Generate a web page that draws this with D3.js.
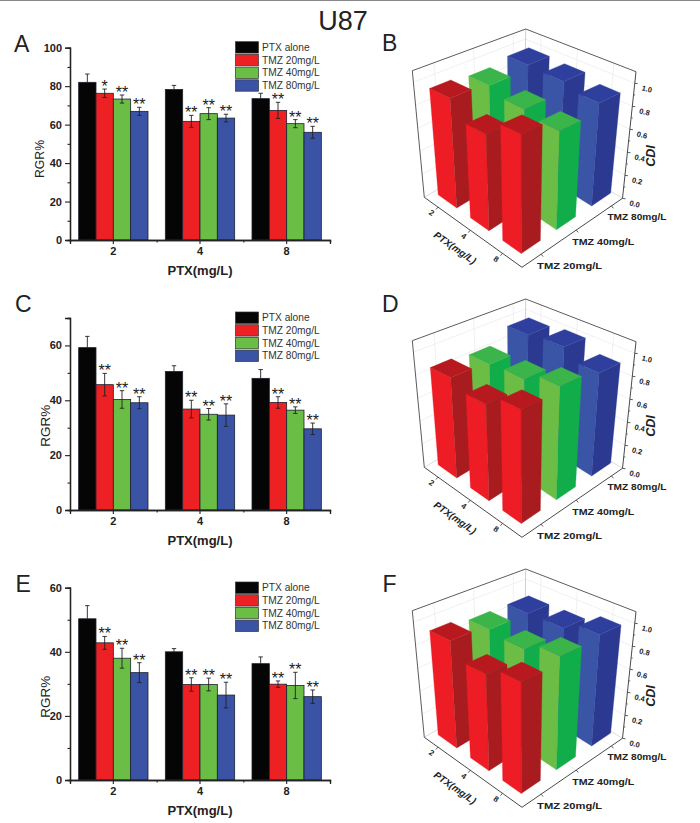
<!DOCTYPE html>
<html>
<head>
<meta charset="utf-8">
<script src="https://cdn.jsdelivr.net/npm/d3@7/dist/d3.min.js"></script>
<style>
html,body{margin:0;padding:0;background:#fff;}
svg{display:block;}
text{font-family:"Liberation Sans",Arial,sans-serif;}
</style>
</head>
<body>
<svg id="chart" width="700" height="823"></svg>
<script>
// ---------- data ----------
const ptxDoses = ["2", "4", "8"];
const seriesNames = ["PTX alone", "TMZ 20mg/L", "TMZ 40mg/L", "TMZ 80mg/L"];
const tmzNames = ["TMZ 20mg/L", "TMZ 40mg/L", "TMZ 80mg/L"];
const barColors = ["#050505", "#ed2024", "#6abd45", "#3a53a4"];

// rows: PTX dose, columns: series
const rgrA = [[82, 76.3, 73.3, 66.9], [78.3, 61.7, 65.7, 63.4], [73.5, 67.4, 60.5, 56]];
const errA = [[4.3, 2.2, 2.1, 2.1], [2.1, 3.1, 3.1, 2], [2.8, 4.2, 2.1, 3.1]];
const starsA = [["", "*", "**", "**"], ["", "**", "**", "**"], ["", "**", "**", "**"]];

const rgrC = [[59.2, 45.7, 40.3, 39.1], [50.5, 36.8, 34.9, 34.6], [48, 39.2, 36.4, 29.6]];
const errC = [[4.1, 4.1, 3.2, 2.2], [2.1, 3.2, 2.1, 4.1], [3.2, 2.1, 1.2, 2.1]];
const starsC = [["", "**", "**", "**"], ["", "**", "**", "**"], ["", "**", "**", "**"]];

const rgrE = [[50.3, 42.8, 38, 33.5], [40, 29.8, 29.8, 26.5], [36.3, 29.9, 29.5, 26]];
const errE = [[4.1, 2, 3.1, 3.1], [1, 2.1, 2, 4], [2.1, 1, 4.1, 2.1]];
const starsE = [["", "**", "**", "**"], ["", "**", "**", "**"], ["", "**", "**", "**"]];

// CDI, rows: PTX dose, columns: TMZ dose
const cdiB = [[0.93, 0.90, 0.94], [0.78, 0.84, 0.93], [0.92, 0.80, 0.88]];
const cdiD = [[0.85, 0.82, 0.94], [0.78, 0.84, 0.97], [0.88, 0.92, 0.88]];
const cdiF = [[0.91, 0.865, 0.86], [0.78, 0.84, 0.87], [0.86, 0.92, 0.95]];

const cdiTicks = [0, 0.2, 0.4, 0.6, 0.8, 1.0];
const cdiMinorTicks = [0.1, 0.3, 0.5, 0.7, 0.9];

const faceColors = [
  {left: "#ee1c25", right: "#a81c20", top: "#b8191f"},
  {left: "#6cbd45", right: "#12ad4b", top: "#3bb54a"},
  {left: "#3a55a5", right: "#2b3990", top: "#2f3f9e"}
];

const svg = d3.select("#chart");
const dark = "#222";

// ---------- page furniture ----------
svg.append("rect").attr("width", 700).attr("height", 1).attr("fill", "#888");
svg.append("text").attr("x", 343).attr("y", 30).attr("text-anchor", "middle")
  .attr("font-size", 27).attr("fill", "#222").text("U87");

function panelLetter(t, x, y) {
  svg.append("text").attr("x", x).attr("y", y).attr("font-size", 23).attr("fill", "#222").text(t);
}
panelLetter("A", 14, 51.5); panelLetter("C", 15, 311.5); panelLetter("E", 15.5, 591.5);
panelLetter("B", 382, 50.5); panelLetter("D", 382, 311.5); panelLetter("F", 382.5, 591.5);

// ---------- bar panels ----------
function barPanel(o) {
  const g = svg.append("g");
  const x0 = d3.scaleBand().domain(ptxDoses).range([70, 330]).paddingInner(0.2).paddingOuter(0.1);
  const x1 = d3.scaleBand().domain(seriesNames).range([0, x0.bandwidth()]);
  const y = d3.scaleLinear().domain([0, o.yMax]).range([o.y0, o.yTop]);

  const groups = g.selectAll("g.grp").data(o.values).join("g")
    .attr("transform", (d, i) => `translate(${x0(ptxDoses[i])},0)`);

  groups.each(function (row, i) {
    const grp = d3.select(this);
    grp.selectAll("rect").data(row).join("rect")
      .attr("x", (d, s) => x1(seriesNames[s]))
      .attr("y", d => y(d))
      .attr("width", x1.bandwidth())
      .attr("height", d => o.y0 - y(d))
      .attr("fill", (d, s) => barColors[s])
      .attr("stroke", "#1c2230").attr("stroke-width", 0.8);
    row.forEach((v, s) => {
      const cx = x1(seriesNames[s]) + x1.bandwidth() / 2;
      const e = o.errors[i][s];
      const low = s === 0 ? v : v - e;
      const hline = yy => grp.append("line").attr("x1", cx - 2.2).attr("x2", cx + 2.2)
        .attr("y1", y(yy)).attr("y2", y(yy)).attr("stroke", dark).attr("stroke-width", 0.9);
      grp.append("line").attr("x1", cx).attr("x2", cx).attr("y1", y(low)).attr("y2", y(v + e))
        .attr("stroke", dark).attr("stroke-width", 0.9);
      hline(v + e);
      if (s > 0) hline(v - e);
      const st = o.stars[i][s];
      if (st) {
        grp.append("text").attr("x", cx).attr("y", y(v + e) + 3)
          .attr("text-anchor", "middle").attr("font-size", 16).attr("fill", "#1a1a1a").text(st);
      }
    });
  });

  // axes
  const yAxis = d3.axisLeft(y).tickValues(o.yMajor).tickSize(5).tickPadding(3).tickFormat(d3.format("d"));
  const yMinor = d3.axisLeft(y).tickValues(o.yMinor).tickSize(2.5).tickFormat("");
  const xAxis = d3.axisBottom(x0).tickSize(4).tickPadding(3);
  const xEdges = d3.scaleLinear().domain([0, 3]).range([70, 330]);
  const xMinor = d3.axisBottom(xEdges).tickValues([1, 2, 3]).tickSize(2.5).tickFormat("");

  g.append("g").attr("transform", "translate(70,0)").call(yMinor);
  g.append("g").attr("transform", "translate(70,0)").call(yAxis);
  g.append("g").attr("transform", `translate(0,${o.y0})`).call(xMinor);
  g.append("g").attr("transform", `translate(0,${o.y0})`).call(xAxis);

  g.selectAll(".tick text").attr("font-family", '"Liberation Sans",Arial,sans-serif')
    .attr("font-size", 11).attr("font-weight", "bold").attr("fill", "#222");
  g.selectAll(".tick line").attr("stroke", dark).attr("stroke-width", 1.1);
  g.selectAll(".domain").attr("stroke", dark).attr("stroke-width", 1.3);

  // titles
  g.append("text").attr("transform", `translate(${o.yTitleX},${o.yTitleY}) rotate(-90)`)
    .attr("text-anchor", "middle").attr("font-size", o.yTitleSize).attr("fill", "#222").text("RGR%");
  g.append("text").attr("x", 200).attr("y", o.y0 + 35).attr("text-anchor", "middle")
    .attr("font-size", 13).attr("font-weight", "bold").attr("fill", "#222").text("PTX(mg/L)");

  // legend
  const leg = g.selectAll("g.leg").data(seriesNames).join("g")
    .attr("transform", (d, i) => `translate(235.5,${o.legendTop + i * 12.7})`);
  leg.append("rect").attr("width", 23).attr("height", 11.4)
    .attr("fill", (d, i) => barColors[i]).attr("stroke", "#333").attr("stroke-width", 0.7);
  leg.append("text").attr("x", 26.5).attr("y", 9.3).attr("font-size", 10.2).attr("fill", "#333").text(d => d);
}

barPanel({values: rgrA, errors: errA, stars: starsA, y0: 240, yTop: 47.7, yMax: 100,
  yMajor: [0, 20, 40, 60, 80, 100], yMinor: [10, 30, 50, 70, 90],
  yTitleX: 43.5, yTitleY: 159, yTitleSize: 12.2, legendTop: 41.7});
barPanel({values: rgrC, errors: errC, stars: starsC, y0: 510, yTop: 318, yMax: 70,
  yMajor: [0, 20, 40, 60], yMinor: [10, 30, 50, 70],
  yTitleX: 50, yTitleY: 425.7, yTitleSize: 13.5, legendTop: 312});
barPanel({values: rgrE, errors: errE, stars: starsE, y0: 780, yTop: 587.7, yMax: 60,
  yMajor: [0, 20, 40, 60], yMinor: [10, 30, 50],
  yTitleX: 50, yTitleY: 696.7, yTitleSize: 13.5, legendTop: 582});

// ---------- 3D panels ----------
function projector(dy) {
  const c = { // frame corners of the perspective box
    l: [424.3, 197.3], f: [522, 267.3], r: [622.5, 198.3], b: [524.3, 139],
    tl: [412.3, 70.7], tf: [521.7, 120.7], tr: [636, 71.7], tb: [525.7, 29]
  };
  const bil = (a, b, r, k, u, v, i) =>
    (1 - u) * (1 - v) * a[i] + u * (1 - v) * b[i] + u * v * r[i] + (1 - u) * v * k[i];
  return (u, v, w) => {
    const res = [0, 1].map(i => {
      const lo = bil(c.l, c.f, c.r, c.b, u, v, i);
      const hi = bil(c.tl, c.tf, c.tr, c.tb, u, v, i);
      return lo + (hi - lo) * w;
    });
    res[1] += dy;
    return res;
  };
}

function barPanel3D(cdi, dy) {
  const g = svg.append("g");
  const P = projector(dy);
  const uS = d3.scalePoint().domain(ptxDoses).range([0.14, 0.80]);
  const vS = d3.scalePoint().domain(tmzNames).range([0.19, 0.89]);
  const wS = d3.scaleLinear().domain([0, 1.1]).range([0, 1]);
  const half = 0.095;
  const path = pts => d3.line()(pts);
  const seg = (a, b, col, sw) => g.append("line")
    .attr("x1", a[0]).attr("y1", a[1]).attr("x2", b[0]).attr("y2", b[1])
    .attr("stroke", col).attr("stroke-width", sw);

  // back walls and floor grid
  const grid = "#e9e9e9";
  cdiTicks.slice(1).forEach(t => {
    const w = wS(t);
    seg(P(0, 0, w), P(0, 1, w), grid, 0.7);
    seg(P(0, 1, w), P(1, 1, w), grid, 0.7);
  });
  ptxDoses.forEach(d => {
    const u = uS(d);
    seg(P(u, 1, 0), P(u, 1, 1), grid, 0.7);
    seg(P(u, 0, 0), P(u, 1, 0), grid, 0.7);
  });
  tmzNames.forEach(d => {
    const v = vS(d);
    seg(P(0, v, 0), P(0, v, 1), grid, 0.7);
    seg(P(0, v, 0), P(1, v, 0), grid, 0.7);
  });
  seg(P(0, 1, 0), P(0, 1, 1), "#bbb", 0.7);
  seg(P(0, 0, 0), P(0, 1, 0), "#ccc", 0.7);
  seg(P(0, 1, 0), P(1, 1, 0), "#ccc", 0.7);

  // frame
  const frame = "#4a4a4a";
  seg(P(0, 0, 0), P(0, 0, 1), frame, 0.9);
  seg(P(0, 0, 1), P(0, 1, 1), frame, 0.9);
  seg(P(0, 1, 1), P(1, 1, 1), frame, 0.9);
  seg(P(1, 1, 1), P(1, 1, 0), frame, 1);
  seg(P(0, 0, 0), P(1, 0, 0), frame, 1);
  seg(P(1, 0, 0), P(1, 1, 0), frame, 1);

  // bars, painted from back to front
  const bars = [];
  ptxDoses.forEach((p, i) => tmzNames.forEach((t, j) =>
    bars.push({u: uS(p), v: vS(t), w: wS(cdi[i][j]), j})));
  bars.sort((a, b) => (a.u - a.v) - (b.u - b.v));
  bars.forEach(b => {
    const u0 = b.u - half, u1 = b.u + half, v0 = b.v - half, v1 = b.v + half;
    const col = faceColors[b.j];
    g.append("path").attr("d", path([P(u0, v0, 0), P(u1, v0, 0), P(u1, v0, b.w), P(u0, v0, b.w)]) + "Z")
      .attr("fill", col.left).attr("stroke", col.left).attr("stroke-width", 0.3);
    g.append("path").attr("d", path([P(u1, v0, 0), P(u1, v1, 0), P(u1, v1, b.w), P(u1, v0, b.w)]) + "Z")
      .attr("fill", col.right).attr("stroke", col.right).attr("stroke-width", 0.3);
    g.append("path").attr("d", path([P(u0, v0, b.w), P(u1, v0, b.w), P(u1, v1, b.w), P(u0, v1, b.w)]) + "Z")
      .attr("fill", col.top).attr("stroke", col.top).attr("stroke-width", 0.3);
  });

  // z axis
  const zLabel = d3.format(".1f");
  cdiTicks.forEach(t => {
    const p = P(1, 1, wS(t));
    seg(p, [p[0] + 3, p[1] + 0.5], frame, 0.9);
    g.append("text").attr("transform", `translate(${p[0] + 6.5},${p[1] + 7}) rotate(14)`)
      .attr("font-size", 7.5).attr("font-weight", "bold").attr("fill", "#222").text(zLabel(t));
  });
  cdiMinorTicks.forEach(t => {
    const p = P(1, 1, wS(t));
    seg(p, [p[0] + 1.6, p[1] + 0.3], frame, 0.8);
  });
  const zm = P(1, 1, wS(0.55));
  g.append("text").attr("transform", `translate(${zm[0] + 26},${zm[1] + 21}) rotate(-90)`)
    .attr("text-anchor", "middle").attr("font-size", 12.5).attr("font-weight", "bold")
    .attr("font-style", "italic").attr("fill", "#222").text("CDI");

  // PTX axis
  ptxDoses.forEach(d => {
    const p = P(uS(d), 0, 0);
    seg(p, [p[0] - 2, p[1] + 2.4], frame, 0.9);
    g.append("text").attr("transform", `translate(${p[0] - 8},${p[1] + 8}) rotate(35)`)
      .attr("text-anchor", "middle").attr("font-size", 8).attr("font-weight", "bold").attr("fill", "#222").text(d);
  });
  g.append("text").attr("transform", `translate(453,${250.5 + dy}) rotate(35)`)
    .attr("text-anchor", "middle").attr("font-size", 9.8).attr("font-weight", "bold")
    .attr("font-style", "italic").attr("fill", "#222").text("PTX(mg/L)");

  // TMZ axis
  const labelLength = d3.scaleLinear().domain([0.19, 0.89]).range([65, 59]);
  tmzNames.forEach(d => {
    const p = P(1, vS(d), 0);
    seg(p, [p[0] + 2, p[1] + 2.4], frame, 0.9);
    g.append("text").attr("x", p[0] - 4).attr("y", p[1] + 14.5)
      .attr("textLength", labelLength(vS(d))).attr("lengthAdjust", "spacingAndGlyphs")
      .attr("font-size", 8.5).attr("font-weight", "bold").attr("fill", "#222").text(d);
  });
}

barPanel3D(cdiB, 0);
barPanel3D(cdiD, 270);
barPanel3D(cdiF, 540);
</script>
</body>
</html>
